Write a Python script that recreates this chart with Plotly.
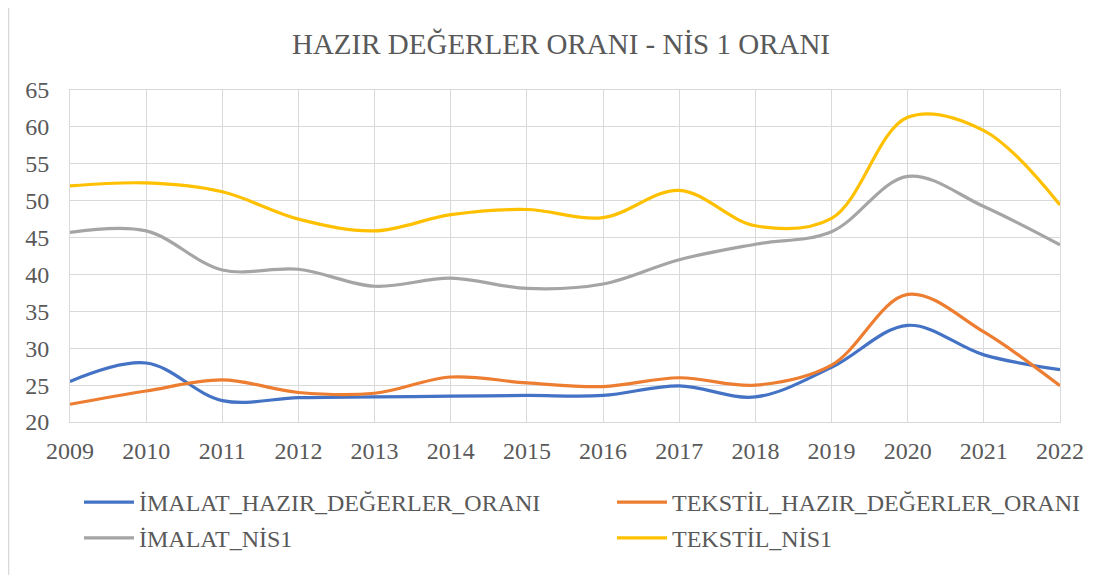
import plotly.graph_objects as go

years = list(range(2009, 2023))
imalat_hazir = [25.5, 28.0, 22.9, 23.3, 23.4, 23.5, 23.6, 23.6, 24.9, 23.4, 27.4, 33.1, 29.1, 27.1]
tekstil_hazir = [22.4, 24.2, 25.7, 24.0, 23.9, 26.1, 25.3, 24.8, 26.0, 25.0, 27.7, 37.3, 32.2, 24.9]
imalat_nis1 = [45.7, 45.9, 40.6, 40.7, 38.4, 39.5, 38.1, 38.7, 42.0, 44.1, 45.8, 53.3, 49.2, 44.0]
tekstil_nis1 = [52.0, 52.4, 51.2, 47.5, 45.9, 48.1, 48.8, 47.7, 51.4, 46.6, 47.6, 61.3, 59.5, 49.4]

series = [
    ("İMALAT_HAZIR_DEĞERLER_ORANI", imalat_hazir, "#4472C4", "legend"),
    ("TEKSTİL_HAZIR_DEĞERLER_ORANI", tekstil_hazir, "#ED7D31", "legend2"),
    ("İMALAT_NİS1", imalat_nis1, "#A5A5A5", "legend"),
    ("TEKSTİL_NİS1", tekstil_nis1, "#FFC000", "legend2"),
]

FONT = "Liberation Serif, Times New Roman, serif"
TXT = "#595959"
GRID = "#D9D9D9"

# page has an 8px body margin, so figure coordinates = reference pixels - 8
OFF = 8
W, H = 1117 - OFF, 575 - OFF
L, R, T, B = 70 - OFF, 1060 - OFF, 90 - OFF, 422 - OFF

def px(x):
    return (x - OFF - L) / (R - L)

def py(y):
    return (B - (y - OFF)) / (B - T)

fig = go.Figure()
for i, (name, vals, col, leg) in enumerate(series):
    fig.add_trace(go.Scatter(
        x=years, y=vals, name=name, mode="lines", legend=leg, legendgroup=str(i),
        line=dict(color=col, width=3.2, shape="spline", smoothing=1.0),
    ))

legend_common = dict(orientation="v", yanchor="top", xanchor="left",
                     font=dict(family=FONT, size=24, color=TXT),
                     bgcolor="rgba(0,0,0,0)", tracegroupgap=1.5, itemwidth=50)

fig.update_layout(
    width=W, height=H,
    margin=dict(l=L, r=W - R, t=T, b=H - B),
    paper_bgcolor="white", plot_bgcolor="white",
    font=dict(family=FONT, color=TXT, size=24),
    title=dict(text="HAZIR DEĞERLER ORANI - NİS 1 ORANI",
               x=(561 - OFF) / W, xanchor="center", xref="container",
               y=1 - (44 - OFF) / H, yanchor="middle", yref="container",
               font=dict(family=FONT, size=29, color=TXT)),
    showlegend=True,
    legend=dict(x=px(79), y=py(480), **legend_common),
    legend2=dict(x=px(612), y=py(480), **legend_common),
    xaxis=dict(range=[2009, 2022], dtick=1, tick0=2009, showgrid=True, gridcolor=GRID,
               gridwidth=1, showline=True, linecolor=GRID, linewidth=1, mirror=True,
               zeroline=False, ticks="", ticklabelstandoff=7,
               tickfont=dict(family=FONT, size=24, color=TXT), fixedrange=True),
    yaxis=dict(range=[20, 65], dtick=5, tick0=20, showgrid=True, gridcolor=GRID,
               gridwidth=1, showline=True, linecolor=GRID, linewidth=1, mirror=True,
               zeroline=False, ticks="", ticklabelstandoff=15,
               tickfont=dict(family=FONT, size=24, color=TXT), fixedrange=True),
    shapes=[dict(type="rect", xref="paper", yref="paper",
                 x0=px(8.5), x1=px(1112.5), y0=py(620), y1=py(2.5),
                 line=dict(color=GRID, width=1.5), fillcolor="rgba(0,0,0,0)", layer="below")],
)

fig.write_html("out.html")
